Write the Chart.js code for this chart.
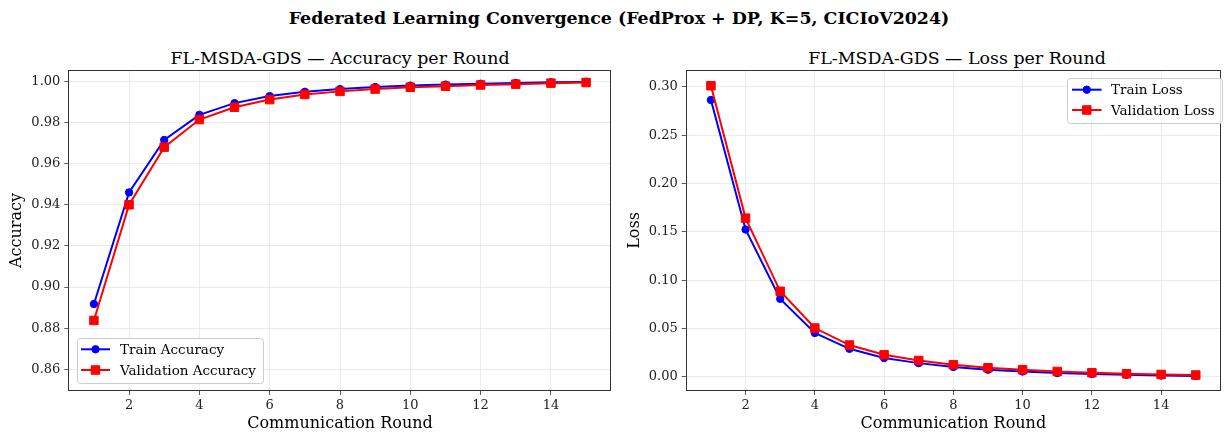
<!DOCTYPE html>
<html>
<head>
<meta charset="utf-8">
<script src="https://cdn.jsdelivr.net/npm/chart.js@4/dist/chart.umd.min.js"></script>
<style>
    html, body { margin: 0; padding: 0; background: #fff; overflow: hidden; }
    body { width: 1226px; height: 435px; position: relative; font-family: 'DejaVu Serif', serif; color: #000; }
    .txt { position: absolute; white-space: nowrap; transform: translate(-50%, -50%); }
    .sup { font-weight: bold; font-size: 17.4px; }
    .sub { font-size: 17.4px; }
    .box { position: absolute; top: 0; }
</style>
</head>
<body>
<div class="txt sup" style="left:619px; top:18px;">Federated Learning Convergence (FedProx + DP, K=5, CICIoV2024)</div>
<div class="txt sub" style="left:340px; top:58px;">FL-MSDA-GDS — Accuracy per Round</div>
<div class="txt sub" style="left:957px; top:58px;">FL-MSDA-GDS — Loss per Round</div>

<div class="box" style="left:0px; width:620px; height:435px;"><canvas id="accChart" width="620" height="435"></canvas></div>
<div class="box" style="left:620px; width:607px; height:435px;"><canvas id="lossChart" width="607" height="435"></canvas></div>

<script>
// Dữ liệu
const rounds = [1, 2, 3, 4, 5, 6, 7, 8, 9, 10, 11, 12, 13, 14, 15];
const trainAcc = [0.8918, 0.9460, 0.9715, 0.9837, 0.9894, 0.9928, 0.9949, 0.9962, 0.9972, 0.9979, 0.9984, 0.9988, 0.9992, 0.9995, 0.9997];
const valAcc = [0.8838, 0.9400, 0.9680, 0.9814, 0.9874, 0.9911, 0.9936, 0.9951, 0.9962, 0.9971, 0.9976, 0.9982, 0.9986, 0.9991, 0.9994];
const trainLoss = [0.2865, 0.1526, 0.0808, 0.0455, 0.0291, 0.0196, 0.0143, 0.0103, 0.0075, 0.0057, 0.0040, 0.0030, 0.0022, 0.0015, 0.0011];
const valLoss = [0.3013, 0.1643, 0.0886, 0.0506, 0.0330, 0.0229, 0.0170, 0.0127, 0.0095, 0.0075, 0.0057, 0.0044, 0.0033, 0.0026, 0.0020];

const roundTicks = [2, 4, 6, 8, 10, 12, 14];
const accTicks = [0.86, 0.88, 0.90, 0.92, 0.94, 0.96, 0.98, 1.00];
const lossTicks = [0.00, 0.05, 0.10, 0.15, 0.20, 0.25, 0.30];

const FONT = "'DejaVu Serif', serif";

// Khung viền quanh vùng vẽ (giống matplotlib)
const framePlugin = {
    id: 'frame',
    afterDatasetsDraw(chart) {
        const a = chart.chartArea;
        const ctx = chart.ctx;
        ctx.save();
        ctx.strokeStyle = '#333';
        ctx.lineWidth = 1;
        ctx.strokeRect(Math.round(a.left) - 0.5, Math.round(a.top) - 0.5, Math.round(a.right - a.left) + 1, Math.round(a.bottom - a.top) + 1);
        ctx.restore();
    }
};

// Chú thích vẽ bên trong vùng biểu đồ
const boxLegendPlugin = {
    id: 'boxLegend',
    afterDraw(chart, args, opts) {
        const ctx = chart.ctx;
        const { x, y, w, h, rows, lineX0, lineX1, textX } = opts;
        ctx.save();
        ctx.fillStyle = 'rgba(255,255,255,0.85)';
        ctx.strokeStyle = '#cccccc';
        ctx.lineWidth = 1;
        ctx.beginPath();
        ctx.roundRect(x + 0.5, y + 0.5, w, h, 3);
        ctx.fill();
        ctx.stroke();
        ctx.font = '13.5px ' + FONT;
        ctx.textBaseline = 'middle';
        opts.items.forEach((it, i) => {
            const ds = chart.data.datasets[it];
            const cy = rows[i];
            ctx.strokeStyle = ds.borderColor;
            ctx.lineWidth = 2;
            ctx.beginPath();
            ctx.moveTo(lineX0, cy);
            ctx.lineTo(lineX1, cy);
            ctx.stroke();
            ctx.fillStyle = ds.pointBackgroundColor;
            ctx.strokeStyle = ds.pointBorderColor;
            ctx.lineWidth = ds.pointBorderWidth;
            Chart.helpers.drawPoint(ctx, {
                pointStyle: ds.pointStyle,
                radius: ds.pointRadius,
                borderWidth: ds.pointBorderWidth,
                rotation: 0
            }, (lineX0 + lineX1) / 2, cy);
            ctx.fillStyle = '#000';
            ctx.fillText(ds.label, textX, cy + 1);
        });
        ctx.restore();
    }
};

function makeDataset(label, values, color, style, order) {
    return {
        label: label,
        data: rounds.map((r, i) => ({ x: r, y: values[i] })),
        borderColor: color,
        backgroundColor: color,
        pointBackgroundColor: color,
        pointBorderColor: color,
        pointStyle: style,
        pointRadius: style === 'rect' ? 6 : 3.7,
        pointBorderWidth: 1,
        borderWidth: 2,
        tension: 0,
        fill: false,
        order: order
    };
}

function makeChart(id, cfg) {
    const ctx = document.getElementById(id).getContext('2d');
    return new Chart(ctx, {
        type: 'line',
        data: {
            datasets: [
                makeDataset(cfg.trainLabel, cfg.train, '#0000ff', 'circle', 1),
                makeDataset(cfg.valLabel, cfg.val, '#ff0000', 'rect', 0)
            ]
        },
        options: {
            responsive: false,
            animation: false,
            layout: { padding: { top: 71, right: cfg.padRight, bottom: 0, left: 0 } },
            plugins: {
                legend: { display: false },
                tooltip: { enabled: false },
                boxLegend: cfg.legend
            },
            scales: {
                x: {
                    type: 'linear',
                    min: 0.3,
                    max: 15.7,
                    afterBuildTicks: s => { s.ticks = roundTicks.map(v => ({ value: v })); },
                    afterFit: s => { s.height = 45; },
                    grid: { color: '#e6e6e6', lineWidth: 0.8, tickColor: '#333', tickLength: 5, drawTicks: true },
                    border: { display: false },
                    ticks: { color: '#222', padding: 3, font: { family: FONT, size: 13 }, callback: v => String(v) },
                    title: { display: true, text: 'Communication Round', color: '#000', font: { family: FONT, size: 16 }, padding: { top: 0, bottom: 1.4 } }
                },
                y: {
                    type: 'linear',
                    min: cfg.yMin,
                    max: cfg.yMax,
                    afterBuildTicks: s => { s.ticks = cfg.yTicks.map(v => ({ value: v })); },
                    afterFit: s => { s.width = cfg.yWidth; },
                    grid: { color: '#e6e6e6', lineWidth: 0.8, tickColor: '#333', tickLength: 5, drawTicks: true },
                    border: { display: false },
                    ticks: { color: '#222', padding: 4, font: { family: FONT, size: 13 }, callback: v => v.toFixed(2) },
                    title: { display: true, text: cfg.yTitle, color: '#000', font: { family: FONT, size: 16 }, padding: { top: cfg.yTitlePad, bottom: 0 } }
                }
            }
        },
        plugins: [framePlugin, boxLegendPlugin]
    });
}

makeChart('accChart', {
    trainLabel: 'Train Accuracy', valLabel: 'Validation Accuracy',
    train: trainAcc, val: valAcc,
    yMin: 0.85, yMax: 1.005, yTicks: accTicks, yTitle: 'Accuracy',
    yWidth: 69.3, yTitlePad: 7.4, padRight: 9.3,
    legend: { x: 77, y: 338, w: 186, h: 45, rows: [349.3, 370], lineX0: 81, lineX1: 110, textX: 120, items: [0, 1] }
});

makeChart('lossChart', {
    trainLabel: 'Train Loss', valLabel: 'Validation Loss',
    train: trainLoss, val: valLoss,
    yMin: -0.0135, yMax: 0.3165, yTicks: lossTicks, yTitle: 'Loss',
    yWidth: 66.7, yTitlePad: 5.4, padRight: 0,
    legend: { x: 447, y: 78, w: 155, h: 45, rows: [89.7, 110], lineX0: 452, lineX1: 481.6, textX: 491, items: [0, 1] }
});
</script>
</body>
</html>
